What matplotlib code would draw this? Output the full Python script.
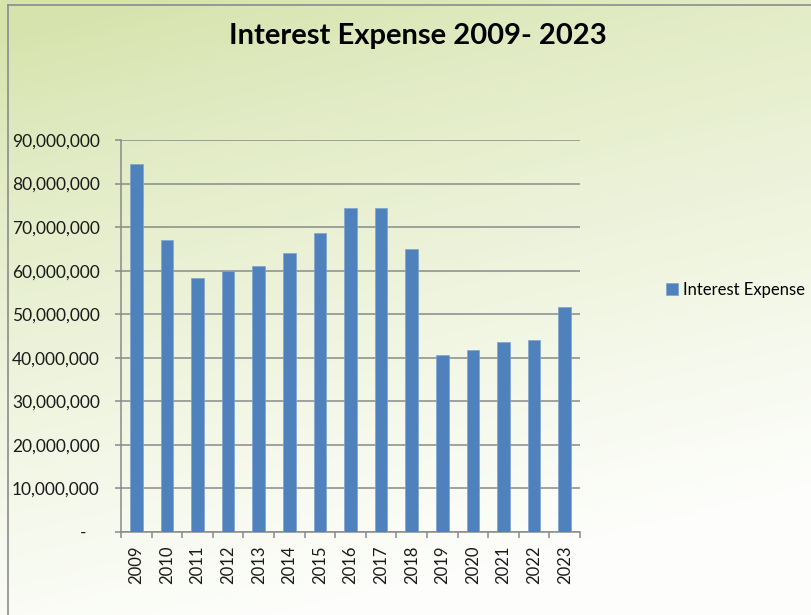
import numpy as np
import matplotlib
matplotlib.use("Agg")
import matplotlib.pyplot as plt
from matplotlib.lines import Line2D
from matplotlib.ticker import FuncFormatter, FixedLocator

plt.rcParams['font.family'] = ['Lato', 'DejaVu Sans']

years = ["2009", "2010", "2011", "2012", "2013", "2014", "2015", "2016",
         "2017", "2018", "2019", "2020", "2021", "2022", "2023"]
interest_expense = [84500000, 67000000, 58300000, 60000000, 61100000,
                    64000000, 68700000, 74500000, 74500000, 64900000,
                    40600000, 41800000, 43600000, 44100000, 51700000]
y_ticks = list(range(0, 90000001, 10000000))

bar_color = "#4F81BD"
grid_color = "#8A8A8A"

fig = plt.figure(figsize=(8.12, 6.15), dpi=100)

# soft green-to-white background over the whole chart
bg = fig.add_axes([0, 0, 1, 1], zorder=-10)
h, w = 200, 260
v = np.linspace(0, 1, h)[:, None]
u = np.linspace(0, 1, w)[None, :]
s = np.clip(0.95 * v + 0.30 * u - 0.05, 0, 1) ** 0.8
green = np.array([214, 227, 172]) / 255
white = np.array([253, 254, 251]) / 255
img = green * (1 - s[..., None]) + white * s[..., None]
bg.imshow(img, aspect="auto", extent=[0, 1, 0, 1], origin="upper")
bg.set_axis_off()

# chart border (top and left edges visible)
fig.add_artist(Line2D([8 / 812, 8 / 812], [0, 1 - 5 / 615],
                      transform=fig.transFigure, color="#8C8C8C", lw=1.2))
fig.add_artist(Line2D([8 / 812, 1], [1 - 5 / 615, 1 - 5 / 615],
                      transform=fig.transFigure, color="#8C8C8C", lw=1.2))

ax = fig.add_axes([121 / 812, 83 / 615, 459 / 812, 392 / 615])
ax.patch.set_alpha(0)

x = np.arange(len(years))
ax.bar(x, interest_expense, width=0.41, color=bar_color,
       edgecolor="#7FA3CE", linewidth=0.5, zorder=3, label="Interest Expense")

ax.set_xlim(-0.5, len(years) - 0.5)
ax.set_ylim(0, 90000000)
ax.set_yticks(y_ticks)
ax.yaxis.set_major_formatter(
    FuncFormatter(lambda val, pos: "-   " if val == 0 else f"{int(val):,}"))
ax.grid(axis="y", color=grid_color, linewidth=1.1, zorder=0)

ax.set_xticks(x)
ax.set_xticklabels(years, rotation=90)
ax.xaxis.set_minor_locator(FixedLocator(np.arange(-0.5, len(years), 1.0)))
ax.tick_params(axis="x", which="major", length=0, pad=10, labelsize=12,
               labelcolor="#1A1A1A")
ax.tick_params(axis="x", which="minor", length=4.2, width=1.1,
               color=grid_color, direction="out")
ax.tick_params(axis="y", length=4.3, width=1.1, color=grid_color, pad=11,
               labelsize=12.5, labelcolor="#1A1A1A")

for side in ["top", "right"]:
    ax.spines[side].set_visible(False)
for side in ["left", "bottom"]:
    ax.spines[side].set_color(grid_color)
    ax.spines[side].set_linewidth(1.1)

fig.text(418 / 812, 1 - 36 / 615, "Interest Expense 2009- 2023",
         ha="center", va="center", fontsize=21, fontweight="bold", color="black")

fig.legend(loc="center left", bbox_to_anchor=(658 / 812, 1 - 290 / 615),
           frameon=False, fontsize=12, handlelength=0.7, handleheight=0.7,
           handletextpad=0.3, borderpad=0)

fig.savefig("out.png", dpi=100)
